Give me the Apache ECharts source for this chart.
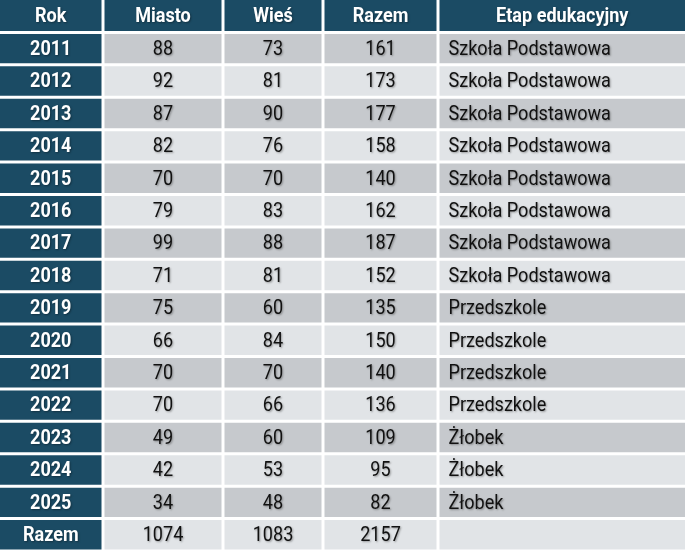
<!DOCTYPE html><html><head><meta charset="utf-8"><script src="https://cdn.jsdelivr.net/npm/echarts@6/dist/echarts.min.js"></script>
<style>html,body{margin:0;padding:0;background:#fff}#c{width:685px;height:551px}</style></head><body><div id="c"></div><script>
const headers=["Rok","Miasto","Wieś","Razem","Etap edukacyjny"];
const years=["2011","2012","2013","2014","2015","2016","2017","2018","2019","2020","2021","2022","2023","2024","2025"];
const miasto=[88,92,87,82,70,79,99,71,75,66,70,70,49,42,34];
const wies=[73,81,90,76,70,83,88,81,60,84,70,66,60,53,48];
const razem=[161,173,177,158,140,162,187,152,135,150,140,136,109,95,82];
const etap=["Szkoła Podstawowa","Szkoła Podstawowa","Szkoła Podstawowa","Szkoła Podstawowa","Szkoła Podstawowa","Szkoła Podstawowa","Szkoła Podstawowa","Szkoła Podstawowa","Przedszkole","Przedszkole","Przedszkole","Przedszkole","Żłobek","Żłobek","Żłobek"];
const totalLabel="Razem";
const totals=[1074,1083,2157,""];
const edges=[0,103,223,323,438,685];
const DARK="#1b4b64",G1="#c6c9cd",G2="#e1e4e7";
const FONT="Roboto,'Liberation Sans Narrow',sans-serif";
const cells=[];
headers.forEach((h,c)=>cells.push([c,0,h,"head"]));
years.forEach((y,i)=>{const r=i+1;const t=i%2===0?"odd":"even";
 cells.push([0,r,y,"rok"]);cells.push([1,r,String(miasto[i]),t]);cells.push([2,r,String(wies[i]),t]);
 cells.push([3,r,String(razem[i]),t]);cells.push([4,r,etap[i],t+"L"]);});
const R=years.length+1;
cells.push([0,R,totalLabel,"rok"]);totals.forEach((v,k)=>cells.push([k+1,R,String(v),"even"]));
const ch=echarts.init(document.getElementById('c'));
ch.setOption({animation:false,
 grid:{left:0,right:0,top:0,bottom:0},
 xAxis:{type:'value',min:0,max:685,show:false},
 yAxis:{type:'value',min:0,max:R+1,inverse:true,show:false},
 series:[{type:'custom',data:cells,renderItem:(p,api)=>{
  const c=api.value(0),r=api.value(1),d=cells[p.dataIndex];
  const a=api.coord([edges[c],r]),b=api.coord([edges[c+1],r+1]);
  const kind=d[3];
  const x=a[0]+(c>0?1.5:0),w=b[0]-a[0]-(c>0?1.5:0)-(c<4?1.5:0);
  const y=a[1]+(r>0?1.5:0),h=b[1]-a[1]-(r>0?1.5:0)-1.5;
  let fill=kind==="head"||kind==="rok"?DARK:(kind.startsWith("odd")?G1:G2);
  const white=kind==="head"||kind==="rok";
  const left=kind.endsWith("L");
  const tx=left?x+9:x+w/2, ty=y+h/2+1;
  const kids=[{type:'rect',shape:{x,y,width:w,height:h},style:{fill}}];
  kids.push({type:'text',x:tx,y:ty,scaleX:0.86,style:{text:d[2],x:0,y:0,align:left?'left':'center',verticalAlign:'middle',
   font:(white?'bold ':'')+'21px '+FONT,fill:white?'#fff':'#111',
   textShadowColor:'rgba(0,0,0,0.35)',textShadowBlur:2,textShadowOffsetX:1,textShadowOffsetY:1}});
  return {type:'group',children:kids};
 }}]});
</script></body></html>
